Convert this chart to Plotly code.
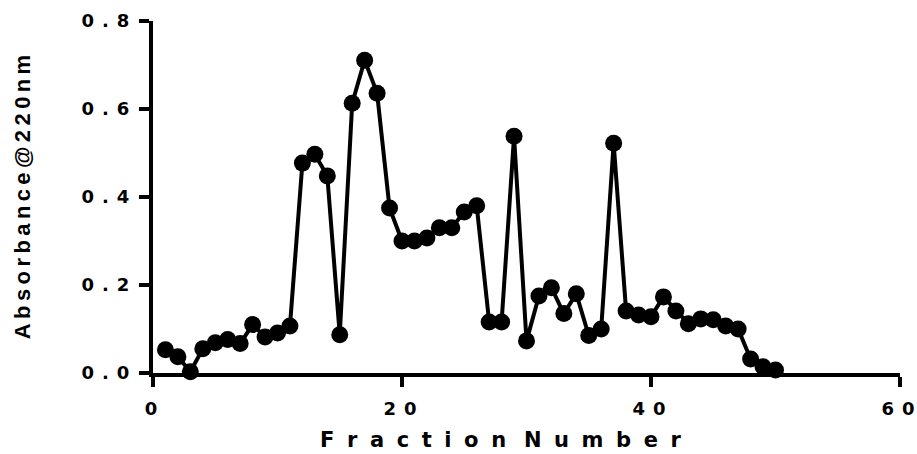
import plotly.graph_objects as go

fraction = list(range(1, 51))
absorbance = [0.053, 0.037, 0.003, 0.055, 0.069, 0.076, 0.067, 0.110, 0.082, 0.091,
              0.107, 0.477, 0.497, 0.448, 0.087, 0.613, 0.711, 0.636, 0.375, 0.300,
              0.300, 0.307, 0.330, 0.330, 0.366, 0.380, 0.116, 0.116, 0.538, 0.073,
              0.175, 0.194, 0.135, 0.180, 0.085, 0.100, 0.522, 0.141, 0.132, 0.128,
              0.173, 0.141, 0.112, 0.123, 0.121, 0.107, 0.100, 0.032, 0.014, 0.007]

x_ticks = [0, 20, 40, 60]
y_ticks = [0.0, 0.2, 0.4, 0.6, 0.8]

EN = "\u2002"
HS = "\u200A"
TS = "\u2009"


def spaced(s, sep):
    return sep.join(list(s))


x_ticktext = [spaced(str(v), " " + HS) for v in x_ticks]
y_ticktext = [spaced(f"{v:.1f}", " " + HS) for v in y_ticks]
x_title = spaced("Fraction", EN + HS) + EN + " " + spaced("Number", EN + HS)
y_title = spaced("Absorbance@220nm", TS)

WIDE = "DejaVu Sans, sans-serif"
ARIAL = "Liberation Sans, Arial, sans-serif"

fig = go.Figure()
fig.add_trace(go.Scatter(
    x=fraction, y=absorbance, mode="lines+markers",
    line=dict(color="black", width=4),
    marker=dict(color="black", size=17, symbol="circle"),
    cliponaxis=False, showlegend=False,
))

fig.update_layout(
    template="none",
    width=917, height=454,
    margin=dict(l=153, r=17, t=21, b=81),
    plot_bgcolor="white", paper_bgcolor="white",
    font=dict(family=ARIAL, color="black"),
    annotations=[dict(
        text=x_title, xref="paper", yref="paper", x=0.466, y=-0.19,
        xanchor="center", yanchor="middle", showarrow=False,
        font=dict(family=WIDE, size=21, weight="bold", color="black"),
    )],
)

fig.update_xaxes(
    range=[0, 60], tickvals=x_ticks, ticktext=x_ticktext,
    showgrid=False, zeroline=False, automargin=False,
    showline=True, linecolor="black", linewidth=4,
    ticks="outside", ticklen=10, tickwidth=4, tickcolor="black",
    tickfont=dict(family=WIDE, size=18, weight="bold", color="black"),
    ticklabelstandoff=6, ticklabeloverflow="allow", ticklabelshift=-2,
)
fig.update_yaxes(
    range=[0, 0.8], tickvals=y_ticks, ticktext=y_ticktext,
    showgrid=False, zeroline=False, automargin=False,
    showline=True, linecolor="black", linewidth=4,
    ticks="outside", ticklen=10, tickwidth=4, tickcolor="black",
    tickfont=dict(family=WIDE, size=18, weight="bold", color="black"),
    ticklabelstandoff=6, ticklabeloverflow="allow",
    title=dict(text=y_title, font=dict(family=ARIAL, size=22, weight="bold", color="black"), standoff=46),
)

fig.write_html(
    "out.html",
    config={"displayModeBar": False},
    post_script="document.documentElement.style.margin='0';document.body.style.margin='0';"
                "document.body.style.overflow='hidden';",
)
